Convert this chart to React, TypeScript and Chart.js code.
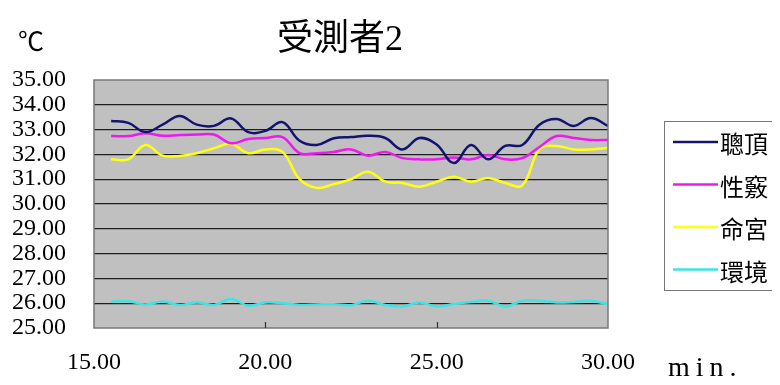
import { useEffect, useRef } from 'react';
import { Chart, registerables } from 'chart.js';

Chart.register(...registerables);

// Elapsed time (min.)
const minutes = [
  15.5, 16, 16.5, 17, 17.5, 18, 18.5, 19, 19.5, 20,
  20.5, 21, 21.5, 22, 22.5, 23, 23.5, 24, 24.5, 25,
  25.5, 26, 26.5, 27, 27.5, 28, 28.5, 29, 29.5, 30,
];

// Temperatures (℃) per measuring point
const congDing = [
  33.35, 33.27, 32.9, 33.2, 33.55, 33.2, 33.15, 33.45, 32.9, 32.95,
  33.3, 32.55, 32.38, 32.65, 32.7, 32.75, 32.66, 32.2, 32.66, 32.4,
  31.65, 32.38, 31.8, 32.34, 32.38, 33.2, 33.43, 33.15, 33.47, 33.15,
];
const xingQiao = [
  32.74, 32.74, 32.85, 32.75, 32.78, 32.8, 32.8, 32.45, 32.62, 32.66,
  32.7, 32.05, 32.05, 32.1, 32.2, 31.95, 32.1, 31.85, 31.8, 31.8,
  31.88, 31.8, 31.98, 31.8, 31.85, 32.3, 32.74, 32.66, 32.58, 32.58,
];
const mingGong = [
  31.8, 31.8, 32.38, 31.95, 31.94, 32.05, 32.25, 32.42, 32.05, 32.2,
  32.1, 31.0, 30.65, 30.8, 31.0, 31.3, 30.9, 30.85, 30.7, 30.9,
  31.1, 30.9, 31.05, 30.85, 30.75, 32.2, 32.34, 32.2, 32.2, 32.26,
];
const huanJing = [
  26.07, 26.08, 25.95, 26.07, 25.93, 26.03, 25.93, 26.17, 25.9, 26.03,
  26.0, 25.93, 25.95, 25.96, 25.92, 26.1, 25.93, 25.87, 26.03, 25.87,
  25.97, 26.05, 26.1, 25.87, 26.1, 26.1, 26.03, 26.05, 26.1, 25.96,
];

const seriesLabels = ['聰頂', '性竅', '命宮', '環境'];
const seriesColors = ['#141470', '#F018F0', '#FFFF10', '#3CE4E4'];
const seriesValues = [congDing, xingQiao, mingGong, huanJing];

const chartTitle = '受測者2';
const yUnit = '℃';
const xUnit = 'min.';

const xTicks = [15, 20, 25, 30];
const yTicks = [25, 26, 27, 28, 29, 30, 31, 32, 33, 34, 35];

const SERIF = '"Liberation Serif", "Noto Sans CJK TC", serif';

const decorPlugin = {
  id: 'decor',
  beforeDraw(chart: any) {
    const { ctx, chartArea } = chart;
    const { left, top, right, bottom } = chartArea;
    ctx.save();
    ctx.fillStyle = '#C0C0C0';
    ctx.fillRect(left, top, right - left, bottom - top);
    ctx.restore();
  },
  afterDraw(chart: any) {
    const { ctx, chartArea, width } = chart;
    const { left, top, right, bottom } = chartArea;
    const xScale = chart.scales.x;
    ctx.save();

    // plot frame
    ctx.strokeStyle = '#7a7a7a';
    ctx.lineWidth = 1.5;
    ctx.strokeRect(left, top, right - left, bottom - top);

    // inner tick marks on the time axis
    ctx.strokeStyle = '#303030';
    ctx.lineWidth = 1.2;
    xTicks.slice(1, -1).forEach((v) => {
      const px = Math.round(xScale.getPixelForValue(v)) + 0.5;
      ctx.beginPath();
      ctx.moveTo(px, bottom);
      ctx.lineTo(px, bottom - 6);
      ctx.stroke();
    });

    // title
    ctx.fillStyle = '#000';
    ctx.textAlign = 'center';
    ctx.textBaseline = 'middle';
    ctx.font = `36px ${SERIF}`;
    ctx.fillText(chartTitle, (left + right) / 2 - 11, top - 39);

    // unit labels
    ctx.font = '26px "Noto Sans CJK TC", sans-serif';
    ctx.fillText(yUnit, 23, top - 39);
    ctx.textAlign = 'left';
    ctx.font = `28px ${SERIF}`;
    (ctx as any).letterSpacing = '6px';
    ctx.fillText(xUnit, right + 60, bottom + 41);
    (ctx as any).letterSpacing = '0px';

    // legend
    const boxLeft = right + 56;
    const boxTop = top + 41;
    const boxBottom = top + 210;
    ctx.strokeStyle = '#777';
    ctx.lineWidth = 1;
    ctx.strokeRect(boxLeft + 0.5, boxTop + 0.5, width - boxLeft + 10, boxBottom - boxTop);
    ctx.font = '24px "Noto Sans CJK TC", sans-serif';
    ctx.textBaseline = 'middle';
    chart.data.datasets.forEach((ds: any, i: number) => {
      const y = boxTop + 21 + i * 42.5;
      ctx.strokeStyle = ds.borderColor;
      ctx.lineWidth = 2.5;
      ctx.beginPath();
      ctx.moveTo(boxLeft + 9, y);
      ctx.lineTo(boxLeft + 54, y);
      ctx.stroke();
      ctx.fillStyle = '#000';
      ctx.fillText(ds.label, boxLeft + 56, y + 2);
    });
    ctx.restore();
  },
};

export default function App() {
  const canvasRef = useRef<HTMLCanvasElement>(null);

  useEffect(() => {
    const canvas = canvasRef.current;
    if (!canvas) return;
    const chart = new Chart(canvas, {
      type: 'line',
      data: {
        datasets: seriesLabels.map((label, i) => ({
          label,
          data: minutes.map((m, j) => ({ x: m, y: seriesValues[i][j] })),
          borderColor: seriesColors[i],
          backgroundColor: seriesColors[i],
          borderWidth: 2.5,
          pointRadius: 0,
          tension: 0.4,
          fill: false,
        })),
      },
      options: {
        animation: false,
        responsive: true,
        maintainAspectRatio: false,
        layout: { padding: { left: 0, right: 164, top: 72, bottom: 0 } },
        plugins: {
          legend: { display: false },
          title: { display: false },
          tooltip: { enabled: false },
        },
        scales: {
          x: {
            type: 'linear',
            min: 15,
            max: 30,
            afterFit: (scale: any) => {
              scale.height = 57;
            },
            afterBuildTicks: (scale: any) => {
              scale.ticks = xTicks.map((v) => ({ value: v }));
            },
            grid: { display: false, drawTicks: false },
            border: { display: false },
            ticks: {
              padding: 20,
              autoSkip: false,
              maxRotation: 0,
              color: '#000',
              font: { family: SERIF, size: 24 },
              callback: (v: any) => Number(v).toFixed(2),
            },
          },
          y: {
            type: 'linear',
            min: 25,
            max: 35,
            afterFit: (scale: any) => {
              scale.width = 86;
            },
            afterBuildTicks: (scale: any) => {
              scale.ticks = yTicks.map((v) => ({ value: v }));
            },
            grid: {
              drawTicks: false,
              lineWidth: 1.2,
              color: (c: any) =>
                c.tick && (c.tick.value === 25 || c.tick.value === 35)
                  ? 'rgba(0,0,0,0)'
                  : '#1e1e1e',
            },
            border: { display: false },
            ticks: {
              padding: 28,
              autoSkip: false,
              color: '#000',
              font: { family: SERIF, size: 24, lineHeight: 1 },
              callback: (v: any) => Number(v).toFixed(2),
            },
          },
        },
      },
      plugins: [decorPlugin],
    });
    return () => chart.destroy();
  }, []);

  return (
    <div style={{ width: 764, height: 377 }}>
      <canvas ref={canvasRef} />
    </div>
  );
}
